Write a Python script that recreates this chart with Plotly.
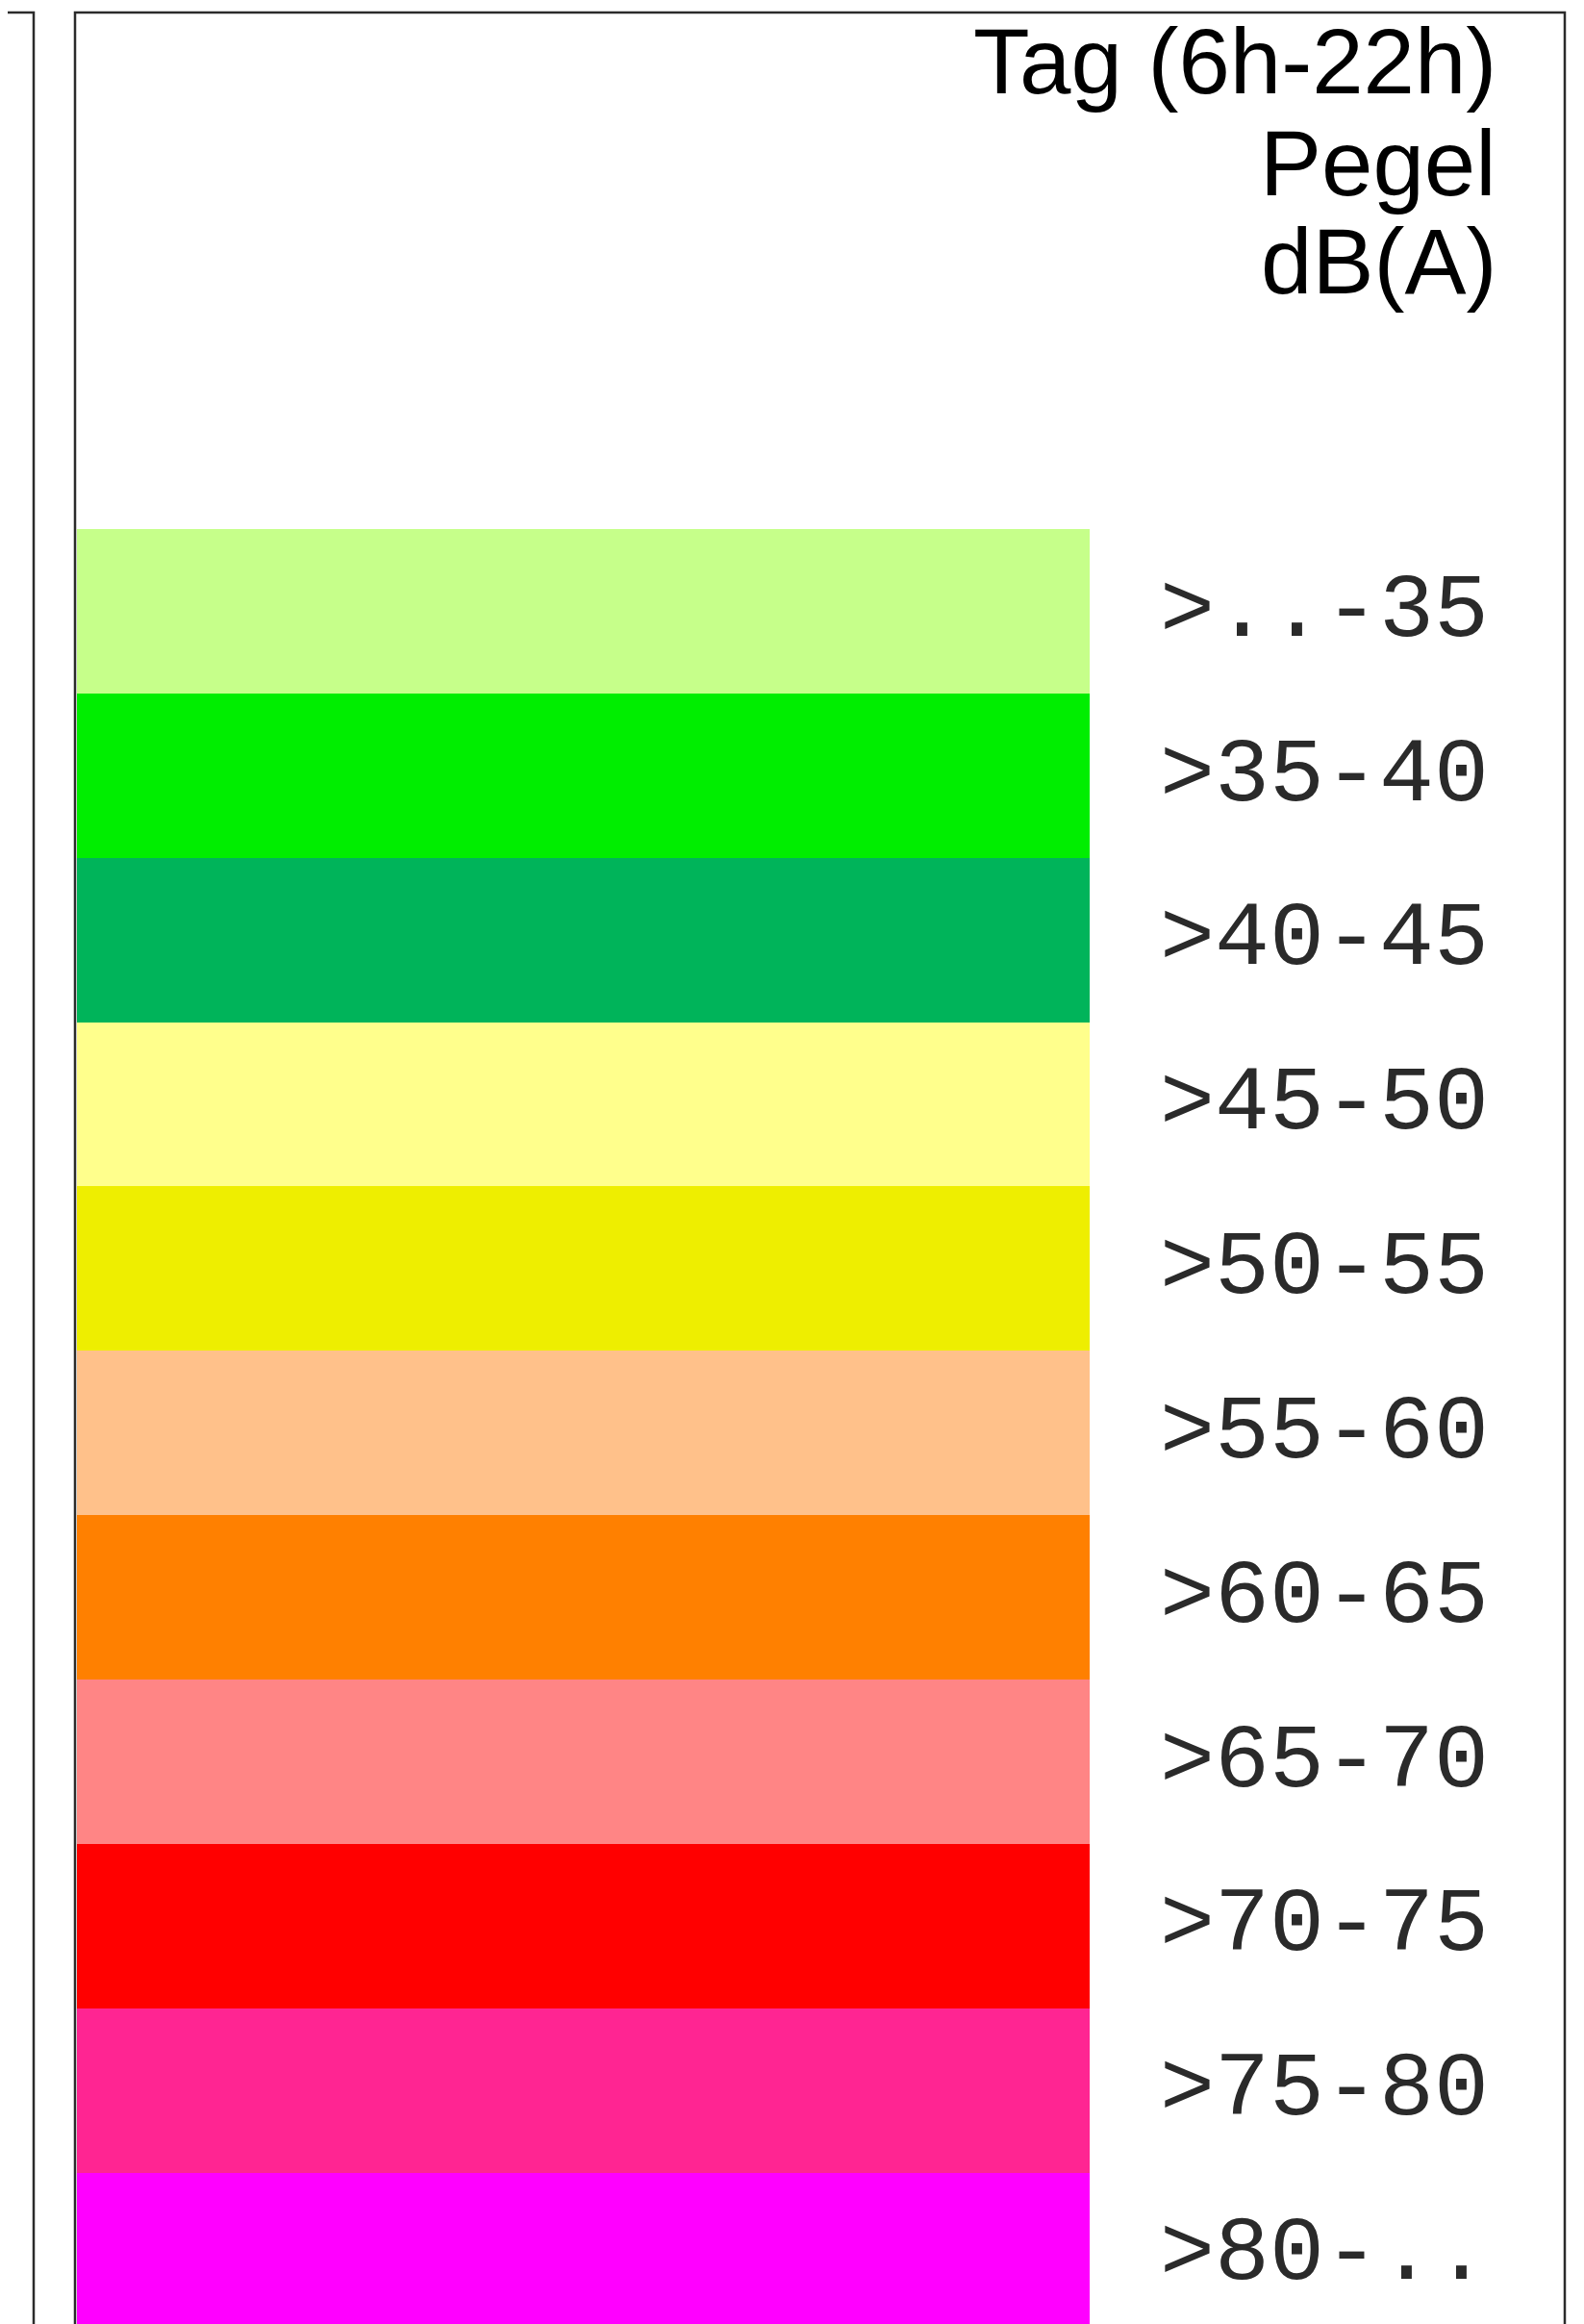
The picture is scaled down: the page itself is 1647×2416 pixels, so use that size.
import plotly.graph_objects as go

# Legend classes (day noise level, dB(A))
class_labels = [">..-35", ">35-40", ">40-45", ">45-50", ">50-55", ">55-60",
                ">60-65", ">65-70", ">70-75", ">75-80", ">80-.."]
class_colors = ["#C6FF8A", "#00EE00", "#00B45A", "#FFFF8C", "#EEEE00", "#FFC18A",
                "#FF8000", "#FF8585", "#FF0000", "#FF2592", "#FF00FF"]
class_width = [1] * len(class_labels)
title_lines = ["Tag (6h-22h)", "Pegel", "dB(A)"]

OFF = 8  # page body margin
W, H = 1647 - OFF, 2416 - OFF
idx = list(range(len(class_labels)))


def px(x):
    return (x - OFF) / W


def py(y):
    return 1 - (y - OFF) / H


fig = go.Figure()
fig.add_trace(go.Bar(
    y=idx, x=class_width, orientation="h", width=1,
    marker=dict(color=class_colors, line=dict(width=0)),
    hoverinfo="skip", showlegend=False,
))

band_top = 550.0 - OFF
band_h = 170.85
first_center = band_top + band_h / 2
y_top = -first_center / band_h
y_bot = (H - first_center) / band_h

bar_left, bar_right, axis_x = 80.0, 1133.0, 1205.0

fig.update_layout(
    width=W, height=H,
    margin=dict(l=0, r=0, t=0, b=0),
    paper_bgcolor="white", plot_bgcolor="white",
    bargap=0,
    xaxis=dict(domain=[px(bar_left), px(axis_x)],
               range=[0, (axis_x - bar_left) / (bar_right - bar_left)],
               visible=False, fixedrange=True),
    yaxis=dict(range=[y_bot, y_top], side="right",
               tickmode="array", tickvals=idx, ticktext=class_labels,
               ticks="", showgrid=False, zeroline=False, showline=False,
               ticklabelshift=8,
               tickfont=dict(family="Liberation Mono", size=95, color="#2a2a2a"),
               fixedrange=True),
)

# frames
line = dict(color="#2b2b2b", width=2.5)
fig.add_shape(type="rect", xref="paper", yref="paper",
              x0=-0.05, x1=px(35), y0=-0.05, y1=py(13), line=line, layer="above")
fig.add_shape(type="rect", xref="paper", yref="paper",
              x0=px(78), x1=px(1627), y0=-0.05, y1=py(13), line=line, layer="above")

# title lines, right aligned
title_y = [63, 169, 272]
for t, cy in zip(title_lines, title_y):
    fig.add_annotation(text=t, xref="paper", yref="paper",
                       x=px(1558), y=py(cy), xanchor="right", yanchor="middle",
                       showarrow=False,
                       font=dict(family="Liberation Sans", size=96, color="black"))

fig.write_html("out.html")
